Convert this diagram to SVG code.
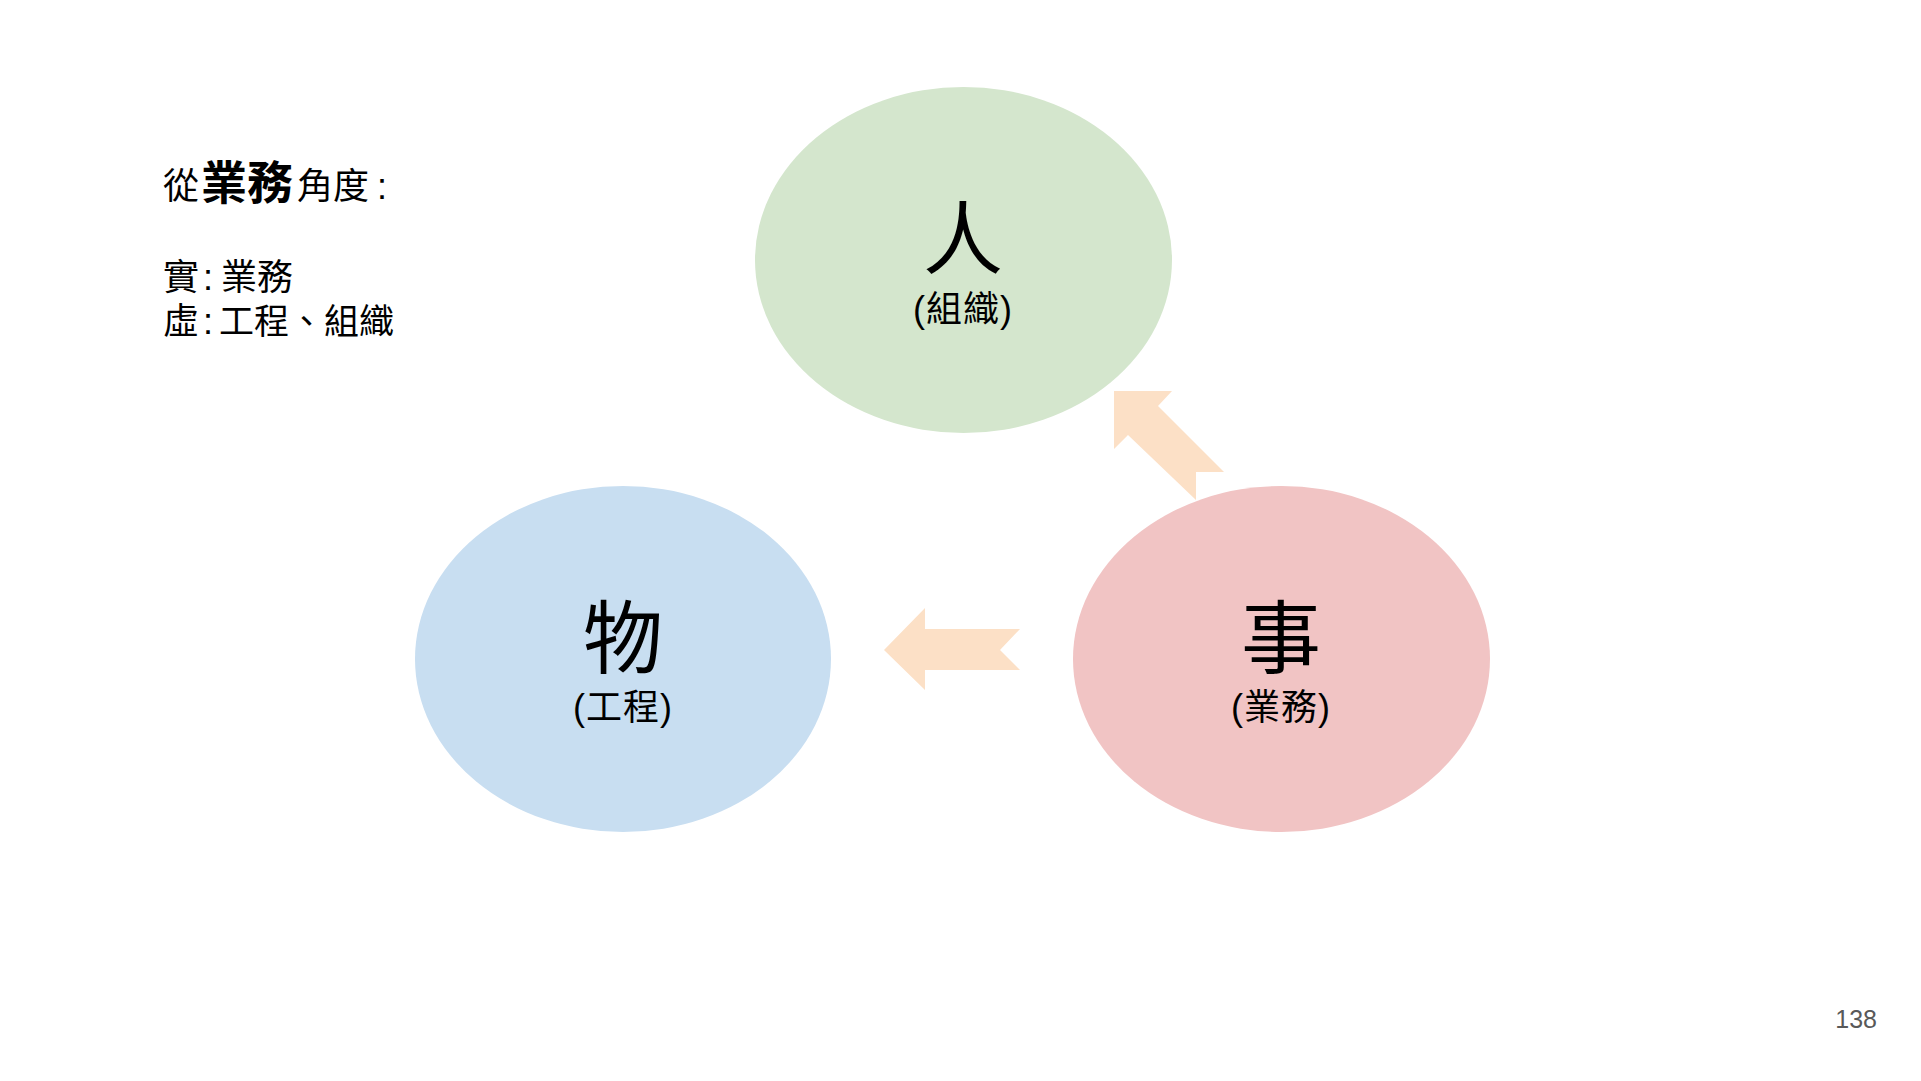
<svg xmlns="http://www.w3.org/2000/svg" width="1921" height="1081" viewBox="0 0 1921 1081">
<style>
.t{font-family:"Liberation Sans","Noto Sans CJK TC",sans-serif;fill:#000}
.big{font-size:80px;text-anchor:middle}
.sub{font-size:36px;text-anchor:middle;letter-spacing:1px}
.side{font-size:36px}
.arrow{fill:#FCE0C6}
</style>
<rect width="1921" height="1081" fill="#fff"/>
<g id="intro" class="t side">
<text x="163" y="199">從<tspan x="201" font-size="46" font-weight="bold">業務</tspan><tspan x="297">角度</tspan><tspan x="377">:</tspan></text>
<text x="163" y="290">實<tspan x="203">:</tspan><tspan x="221">業務</tspan></text>
<text x="163" y="334">虛<tspan x="203">:</tspan><tspan x="219" font-size="35">工程、組織</tspan></text>
</g>
<g id="node-people">
<ellipse cx="963.5" cy="260" rx="208.5" ry="173" fill="#D4E6CD"/>
<text class="t big" x="963" y="268">人</text>
<text class="t sub" x="963" y="322">(組織)</text>
</g>
<g id="node-things">
<ellipse cx="623" cy="659" rx="208" ry="173" fill="#C8DEF1"/>
<text class="t big" x="623" y="667">物</text>
<text class="t sub" x="623" y="720">(工程)</text>
</g>
<g id="node-affairs">
<ellipse cx="1281.5" cy="659" rx="208.5" ry="173" fill="#F1C4C4"/>
<text class="t big" x="1281" y="667">事</text>
<text class="t sub" x="1281" y="720">(業務)</text>
</g>
<g id="connectors">
<polygon class="arrow" points="1114,391 1172,391 1158,406 1224,472 1196,472 1196,500 1128,435 1114,449"/>
<polygon class="arrow" points="884,650 925,608 925,629 1020,629 1000,650 1020,670 925,670 925,690"/>
</g>
<text id="page" x="1877" y="1028" text-anchor="end" font-family="Liberation Sans, sans-serif" font-size="25" fill="#595959">138</text>
</svg>
